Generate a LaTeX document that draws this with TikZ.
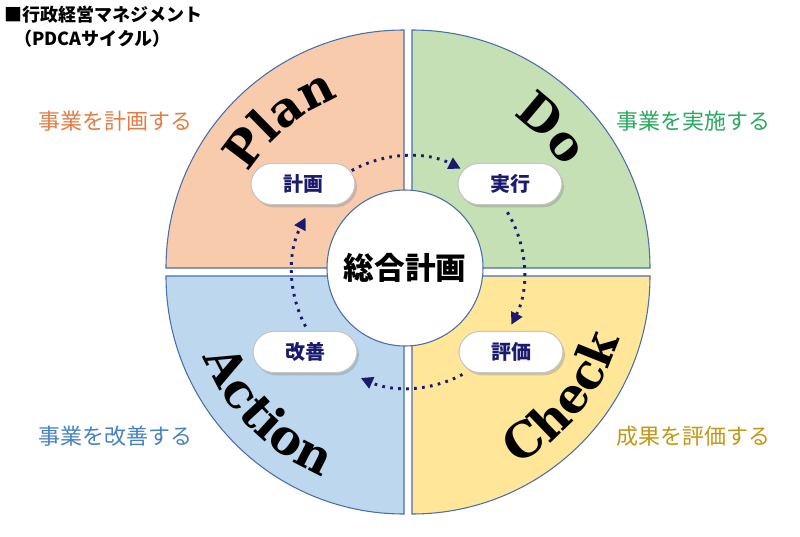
\documentclass[tikz,border=0pt]{standalone}
\usepackage{fontspec}
\setmainfont{DejaVu Serif}
\newfontfamily\jp{Noto Sans CJK JP}
\usetikzlibrary{decorations.text,shadows,arrows.meta}
\definecolor{qplan}{HTML}{F8CBAD}
\definecolor{qdo}{HTML}{C5E0B4}
\definecolor{qact}{HTML}{BDD7EE}
\definecolor{qchk}{HTML}{FFE699}
\definecolor{qline}{HTML}{4A6FA8}
\definecolor{navy}{HTML}{1A1A6E}
\tikzset{
 quad/.style={draw=qline,line width=0.8pt},
 pill/.style={rounded corners=16pt,fill=white,draw=gray!45,line width=0.8pt,minimum width=78pt,minimum height=31pt,font=\jp\bfseries\fontsize{15}{15}\selectfont,text=navy,drop shadow={shadow xshift=1.5pt,shadow yshift=-2pt,opacity=0.35}},
 flow/.style={navy,line width=2.2pt,dash pattern=on 2pt off 4pt,-{Triangle[length=9pt,width=9pt]}},
 side/.style={font=\jp\fontsize{16.5}{16.5}\selectfont},
 big/.style={decorate,decoration={text along path,text align=center,text={|\fontsize{36}{36}\bfseries\selectfont|#1}}}
}
\begin{document}
\begin{tikzpicture}[x=0.75pt,y=-0.75pt]
\useasboundingbox (0,0) rectangle (800,536);
\def\R{238}
% quadrants
\fill[qplan] (404,268) -- ++(-\R,0) arc[start angle=180,end angle=90,x radius=\R,y radius=-\R] -- cycle;
\draw[quad] (404,268) ++(-\R,0) arc[start angle=180,end angle=90,x radius=\R,y radius=-\R] -- (404,268) -- cycle;
\fill[qdo] (412,268) -- ++(0,-\R) arc[start angle=90,end angle=0,x radius=\R,y radius=-\R] -- cycle;
\draw[quad] (412,268) -- ++(0,-\R) arc[start angle=90,end angle=0,x radius=\R,y radius=-\R] -- cycle;
\fill[qchk] (412,276) -- ++(\R,0) arc[start angle=0,end angle=-90,x radius=\R,y radius=-\R] -- cycle;
\draw[quad] (412,276) -- ++(\R,0) arc[start angle=0,end angle=-90,x radius=\R,y radius=-\R] -- cycle;
\fill[qact] (404,276) -- ++(0,\R) arc[start angle=-90,end angle=-180,x radius=\R,y radius=-\R] -- cycle;
\draw[quad] (404,276) -- ++(0,\R) arc[start angle=-90,end angle=-180,x radius=\R,y radius=-\R] -- cycle;
% center circle
\node[circle,fill=white,draw=qline,line width=0.8pt,minimum size=117pt,font=\jp\bfseries\fontsize{23}{23}\selectfont] (core) at (405,268) {総合計画};
% big words
\coordinate (c) at (408,272);
\path[big=Plan] (c) ++(-165:188) arc[start angle=-165,end angle=-95,radius=188];
\path[big=Do] (c) ++(-75:188) arc[start angle=-75,end angle=-15,radius=188];
\path[big=Check] (c) ++(72:222) arc[start angle=72,end angle=6,radius=222];
\path[big=Action] (c) ++(-192:222) arc[start angle=-192,end angle=-258,radius=222];
% pills
\node[pill] (plan) at (303,184) {計画};
\node[pill] (do) at (510,184) {実行};
\node[pill] (chk) at (511,352) {評価};
\node[pill] (act) at (305,352) {改善};
% flows
\draw[flow] (c) ++(-119:116) arc[start angle=-119,end angle=-63,radius=116];
\draw[flow] (c) ++(-31:116) arc[start angle=-31,end angle=27,radius=116];
\draw[flow] (c) ++(62:116) arc[start angle=62,end angle=114,radius=116];
\draw[flow] (c) ++(-208:116) arc[start angle=-208,end angle=-152,radius=116];
% side labels
\node[side,text={rgb,255:red,226;green,125;blue,70}] (l1) at (115,121) {事業を計画する};
\node[side,text={rgb,255:red,40;green,170;blue,95}] (l2) at (693,121) {事業を実施する};
\node[side,text={rgb,255:red,70;green,130;blue,195}] (l3) at (115,436) {事業を改善する};
\node[side,text={rgb,255:red,195;green,150;blue,20}] (l4) at (693,436) {成果を評価する};
% title
\node[anchor=west,font=\jp\bfseries\fontsize{13.5}{13.5}\selectfont,inner sep=0] (t1) at (4,15) {■行政経営マネジメント};
\node[anchor=west,font=\jp\bfseries\fontsize{13.5}{13.5}\selectfont,inner sep=0] (t2) at (14,39) {（PDCAサイクル）};
\end{tikzpicture}
\end{document}
